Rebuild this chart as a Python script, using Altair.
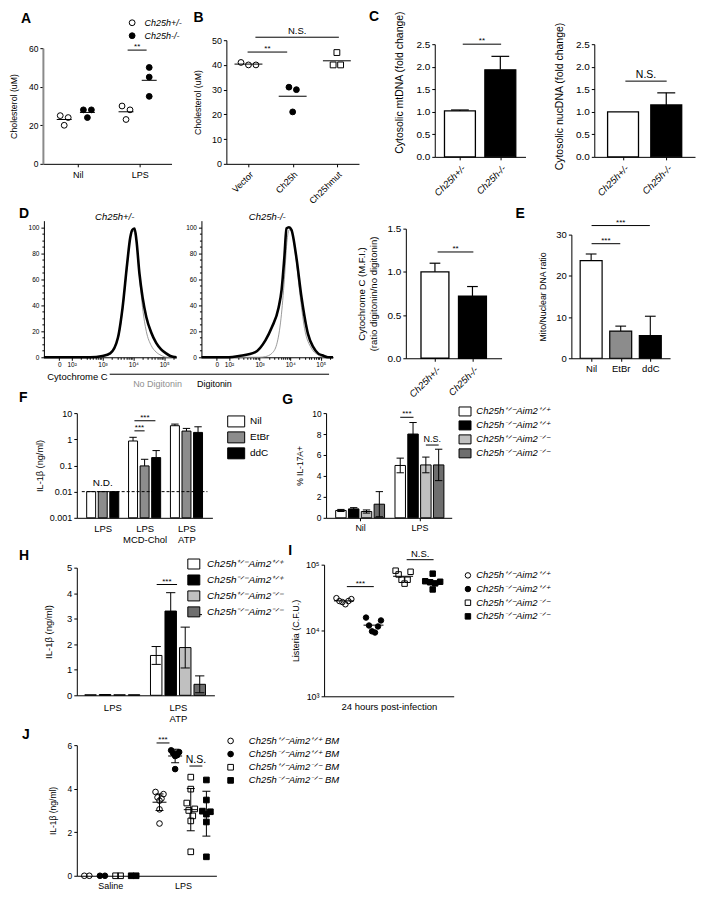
import json
import math
import altair as alt
import pandas as pd

FONT = "Liberation Sans"
W, H = 690, 884

# ---------------- data ----------------
# A
A_groups = ["Nil", "LPS"]
A_series = ["Ch25h+/-", "Ch25h-/-"]
A_het = [[25, 24, 20], [30, 28, 23]]
A_ko = [[28, 28, 24], [50, 45, 35]]
A_sig = [(0.806, 1.113, 59, "**")]

# B
B_groups = ["Vector", "Ch25h", "Ch25hmut"]
B_vals = [[41, 40, 40], [31, 30, 21], [45, 40, 40]]
B_sig = [(-0.02, 0.876, 45.2, "**"), (0.157, 2.045, 51.2, "N.S.")]

# C
C_groups = ["Ch25h+/-", "Ch25h-/-"]
C_mt = [1.02, 1.93]
C_mt_err = [0.02, 0.30]
C_mt_sig = [(0.07, 1.02, 2.5, "**")]
C_nuc = [1.00, 1.15]
C_nuc_err = [0.0, 0.27]
C_nuc_sig = [(0.054, 1.01, 1.68, "N.S.")]

# D (flow histograms, x in decades)
D_tick_pos = [1.6, 2, 3, 4, 5]
D_tick_lab = ["0", "10²", "10³", "10⁴", "10⁵"]
D_het_dig_x = [1.1, 2.6, 3.0, 3.25, 3.5, 3.65, 3.8, 3.9, 3.97, 4.04, 4.1, 4.2, 4.3, 4.42, 4.58, 4.74, 4.9, 5.06, 5.2, 5.4]
D_het_dig_y = [0, 0, 1, 3, 15, 38, 72, 92, 98, 99, 90, 64, 46, 31, 19, 11, 6, 3, 1, 0]
D_het_nod_x = [1.1, 2.8, 3.2, 3.5, 3.65, 3.8, 3.9, 3.98, 4.04, 4.12, 4.2, 4.3, 4.42, 4.58, 4.74, 4.9, 5.1, 5.4]
D_het_nod_y = [0, 0, 2, 14, 36, 70, 92, 97, 96, 85, 62, 38, 20, 9, 4, 1.5, 0, 0]
D_ko_dig_x = [1.1, 2.0, 2.33, 2.86, 3.19, 3.4, 3.62, 3.72, 3.81, 3.88, 3.96, 4.04, 4.2, 4.37, 4.58, 4.75, 4.91, 5.05, 5.23, 5.4]
D_ko_dig_y = [0, 0, 1, 4, 13, 23, 38, 52, 77, 99, 100, 98, 77, 46, 18, 8, 3, 1.5, 0, 0]
D_ko_nod_x = [1.1, 3.0, 3.19, 3.4, 3.56, 3.7, 3.81, 3.89, 3.97, 4.06, 4.17, 4.31, 4.47, 4.69, 4.9, 5.12, 5.4]
D_ko_nod_y = [0, 0, 0.5, 3, 10, 30, 60, 88, 98, 96, 80, 50, 22, 7, 2, 0, 0]
D_groups = ["Ch25h+/-", "Ch25h-/-"]
D_mfi = [1.00, 0.72]
D_mfi_err = [0.10, 0.11]
D_sig = [(0.071, 1.024, 1.23, "**")]

# E
E_groups = ["Nil", "EtBr", "ddC"]
E_vals = [23.7, 6.6, 5.5]
E_err = [1.6, 1.2, 4.7]
E_sig = [(0.015, 0.985, 27.8, "***"), (0.015, 1.985, 32.2, "***")]

# F
F_groups = ["LPS", "LPS|MCD-Chol", "LPS|ATP"]
F_series = ["Nil", "EtBr", "ddC"]
F_vals = [[0.01, 0.01, 0.01], [0.86, 0.096, 0.2], [3.3, 2.06, 1.83]]
F_err = [[0, 0, 0], [0.33, 0.076, 0.17], [0.5, 0.54, 1.17]]
F_sig = [(0.757, 1.258, 5.1, "***"), (0.757, 1.0, 2.1, "***")]
F_cutoff = 0.01
F_nd = [(0, 0.021, "N.D.")]

# G
G_groups = ["Nil", "LPS"]
G_series = ["Ch25h⁺ᐟ⁻Aim2⁺ᐟ⁺", "Ch25h⁻ᐟ⁻Aim2⁺ᐟ⁺", "Ch25h⁺ᐟ⁻Aim2⁻ᐟ⁻", "Ch25h⁻ᐟ⁻Aim2⁻ᐟ⁻"]
G_vals = [[0.7, 0.85, 0.6, 1.3], [5.0, 8.0, 5.05, 5.05]]
G_err = [[0.1, 0.12, 0.15, 1.2], [0.7, 1.1, 0.75, 1.5]]
G_sig = [(0.676, 0.9, 9.6, "***"), (1.108, 1.324, 6.95, "N.S.")]

# H
H_groups = ["LPS", "LPS|ATP"]
H_series = G_series
H_vals = [[0.02, 0.03, 0.02, 0.02], [1.56, 3.3, 1.87, 0.43]]
H_err = [[0, 0, 0, 0], [0.35, 0.72, 0.8, 0.33]]
H_sig = [(0.676, 0.986, 4.34, "***"), (1.169, 1.366, 3.16, "**")]

# I
I_series = G_series
I_vals = [[30000, 31000, 28000, 27000, 25000, 28000],
          [15700, 14200, 11500, 11900, 9300, 9700],
          [78000, 71000, 81000, 59000, 51500, 59000],
          [73000, 56000, 55000, 54000, 52000, 42000]]
I_sig = [(0.1, 1.01, 46400, "***"), (2.12, 3.03, 119000, "N.S.")]

# J
J_groups = ["Saline", "LPS"]
J_series = ["Ch25h⁺ᐟ⁻Aim2⁺ᐟ⁺ BM", "Ch25h⁻ᐟ⁻Aim2⁺ᐟ⁺ BM", "Ch25h⁺ᐟ⁻Aim2⁻ᐟ⁻ BM", "Ch25h⁻ᐟ⁻Aim2⁻ᐟ⁻ BM"]
J_saline = [[0, 0], [0, 0], [0, 0], [0, 0]]
J_lps = [[3.85, 3.75, 3.6, 3.55, 3.45, 3.05, 2.4],
         [5.76, 5.68, 5.63, 5.54, 5.5, 4.9],
         [4.53, 3.98, 3.34, 3.07, 3.0, 2.75, 2.52, 1.1],
         [4.4, 3.48, 2.97, 2.94, 2.83, 2.47, 0.87]]
J_lps_sd = [0.38, 0.31, 0.97, 1.03]
J_sig = [(0.637, 0.815, 6.1, "***"), (1.089, 1.267, 5.04, "N.S.")]

# ---------------- helpers ----------------
def names_expr(names, multiline=False):
    e = json.dumps(names) + "[round(datum.value)]"
    return "split(" + e + ", '|')" if multiline else e


def axis(**kw):
    d = dict(grid=False, domainColor="black", tickColor="black", labelColor="black",
             titleColor="black", labelFont=FONT, titleFont=FONT, titleFontWeight="normal",
             minExtent=0, maxExtent=300, labelOverlap=False, labelFlush=False)
    d.update(kw)
    return alt.Axis(**d)


def legend(x, y, fs=9.5, italic=True, stype=None, ssize=30, row_pad=3, loff=5):
    kw = dict(orient="none", legendX=x, legendY=y, title=None, direction="vertical",
              labelFont=FONT, labelFontSize=fs, labelColor="black", symbolSize=ssize,
              symbolStrokeColor="black", symbolStrokeWidth=1, rowPadding=row_pad,
              labelOffset=loff, padding=0)
    if italic:
        kw["labelFontStyle"] = "italic"
    if stype:
        kw["symbolType"] = stype
    return alt.Legend(**kw)


class Panel:
    def __init__(self, rect, xdom, ydom, xaxis, yaxis, ylog=False):
        self.x0, self.y0, self.x1, self.y1 = rect
        self.xdom, self.ydom = xdom, ydom
        self.xs = alt.Scale(domain=xdom, range=[self.x0, self.x1], nice=False, zero=False)
        if ylog:
            self.ys = alt.Scale(type="log", domain=ydom, range=[self.y1, self.y0], nice=False)
            self.ppy = (self.y1 - self.y0) / (math.log10(ydom[1]) - math.log10(ydom[0]))
        else:
            self.ys = alt.Scale(domain=ydom, range=[self.y1, self.y0], nice=False, zero=False)
            self.ppy = (self.y1 - self.y0) / (ydom[1] - ydom[0])
        self.ppx = (self.x1 - self.x0) / (xdom[1] - xdom[0])
        self.xaxis, self.yaxis = xaxis, yaxis
        self.layers = []

    def X(self, f, ax=False):
        return alt.X(f, type="quantitative", scale=self.xs, axis=self.xaxis if ax else None)

    def Y(self, f, ax=False):
        return alt.Y(f, type="quantitative", scale=self.ys, axis=self.yaxis if ax else None)

    def add(self, *chs):
        self.layers.extend(chs)

    def chart(self):
        return alt.layer(*self.layers).resolve_axis(x="independent", y="independent")


def swarm(vals, ppy, log=False, diam=6.0, step=7.0, spread=14.0):
    t = [math.log10(v) if log else v for v in vals]
    idx = sorted(range(len(vals)), key=lambda i: -t[i])
    clusters = [[idx[0]]]
    for a, b in zip(idx, idx[1:]):
        if abs(t[a] - t[b]) * ppy < diam:
            clusters[-1].append(b)
        else:
            clusters.append([b])
    offs = [0.0] * len(vals)
    for c in clusters:
        n = len(c)
        if n < 2:
            continue
        st = min(step, spread / (n - 1))
        slots = [(k - (n - 1) / 2) * st for k in range(n)]
        order, lo, hi = [], 0, n - 1
        for j in range(n):
            if j % 2 == 0:
                order.append(lo); lo += 1
            else:
                order.append(hi); hi -= 1
        for j, i in enumerate(c):
            offs[i] = slots[order[j]]
    return offs


def scatter_df(p, groups_vals, positions, series, log=False, **kw):
    rows, means = [], []
    for vals, pos, s in zip(groups_vals, positions, series):
        offs = swarm(vals, p.ppy, log, **kw)
        for v, o in zip(vals, offs):
            rows.append(dict(x=pos + o / p.ppx, v=v, s=s))
        means.append(dict(x=pos, m=sum(vals) / len(vals), s=s))
    return pd.DataFrame(rows), pd.DataFrame(means)


def point_layer(p, df, series, fills, shapes, size, leg):
    return alt.Chart(df).mark_point(filled=True, strokeWidth=1, size=size, opacity=1).encode(
        x=p.X("x", True), y=p.Y("v", True),
        fill=alt.Fill("s:N", scale=alt.Scale(domain=series, range=fills), legend=leg),
        stroke=alt.Stroke("s:N", scale=alt.Scale(domain=series, range=["black"] * len(series)), legend=leg),
        shape=alt.Shape("s:N", scale=alt.Scale(domain=series, range=shapes), legend=leg))


def mean_layer(p, dm, half_px, sw=1.0):
    d = dm.copy()
    d["l"] = d.x - half_px / p.ppx
    d["r"] = d.x + half_px / p.ppx
    return alt.Chart(d).mark_rule(color="black", strokeWidth=sw).encode(
        x=p.X("l"), x2=alt.X2("r"), y=p.Y("m"))


def bar_df(groups, series, vals, errs, off_units, base=0.0):
    rows = []
    n = len(series)
    for g in range(len(groups)):
        for s in range(n):
            v, e = vals[g][s], errs[g][s]
            rows.append(dict(x=g + (s - (n - 1) / 2) * off_units, v=v, e=e, s=series[s],
                             base=base, hi=v + e, lo=v - e))
    return pd.DataFrame(rows)


def bar_layer(p, df, width, dom, rng, leg=None, sw=1.0):
    return alt.Chart(df).mark_bar(size=width, stroke="black", strokeWidth=sw, orient="vertical").encode(
        x=p.X("x", True), y=p.Y("v", True), y2=alt.Y2("base"),
        fill=alt.Fill("s:N", scale=alt.Scale(domain=dom, range=rng), legend=leg))


def err_layers(p, df, cap_px, two_sided=False, sw=1.0):
    d = df[df.e > 0].copy()
    c = cap_px / p.ppx
    d["cl"] = d.x - c
    d["cr"] = d.x + c
    start = "lo" if two_sided else "v"
    out = [alt.Chart(d).mark_rule(color="black", strokeWidth=sw).encode(x=p.X("x"), y=p.Y(start), y2=alt.Y2("hi")),
           alt.Chart(d).mark_rule(color="black", strokeWidth=sw).encode(x=p.X("cl"), x2=alt.X2("cr"), y=p.Y("hi"))]
    if two_sided:
        out.append(alt.Chart(d).mark_rule(color="black", strokeWidth=sw).encode(x=p.X("cl"), x2=alt.X2("cr"), y=p.Y("lo")))
    return out


def sig_layers(p, sig, fs, gap=2):
    d = pd.DataFrame([dict(a=a, b=b, y=y, t=t, m=(a + b) / 2) for a, b, y, t in sig])
    return [alt.Chart(d).mark_rule(color="black", strokeWidth=1).encode(x=p.X("a"), x2=alt.X2("b"), y=p.Y("y")),
            alt.Chart(d).mark_text(font=FONT, fontSize=fs, baseline="alphabetic", dy=-gap, color="black").encode(
                x=p.X("m"), y=p.Y("y"), text="t:N")]


def text_layer(t, x, y, fs=9, **kw):
    return alt.Chart(pd.DataFrame({"t": [t]})).mark_text(font=FONT, fontSize=fs, color=kw.pop("color", "black"), **kw).encode(
        text="t:N", x=alt.value(x), y=alt.value(y))


panels = []
extras = []

# ---------------- A ----------------
pA = Panel((35, 39, 164, 155), [-0.565, 1.516], [0, 60],
           axis(orient="bottom", offset=155 - H, values=[0, 1], labelExpr=names_expr(A_groups),
                labelFontSize=9, tickSize=3, labelPadding=4, title=None),
           axis(orient="left", offset=-35, values=[0, 20, 40, 60], labelFontSize=8.5, tickSize=3,
                labelPadding=2, title="Cholesterol (uM)", titleFontSize=8.8, titlePadding=10,
                domainColor="#8a8a8a", domainWidth=2))
A_off = [-0.22, 0.155]
gv, pos, ser = [], [], []
for g in range(len(A_groups)):
    gv += [A_het[g], A_ko[g]]
    pos += [g + A_off[0], g + A_off[1]]
    ser += A_series
dfA, mA = scatter_df(pA, gv, pos, ser, diam=6, step=8, spread=16)
pA.add(point_layer(pA, dfA, A_series, ["transparent", "black"], ["circle", "circle"], 34,
                   legend(120, 9, fs=9, ssize=34, row_pad=2, loff=8)))
pA.add(mean_layer(pA, mA, 7.5))
pA.add(*sig_layers(pA, A_sig, 8, gap=1))
panels.append(pA.chart())

# ---------------- B ----------------
pB = Panel((219, 31, 352, 155), [-0.5, 2.5], [0, 50],
           axis(orient="bottom", offset=155 - H, values=[0, 1, 2], labelExpr=names_expr(B_groups),
                labelFontSize=9, tickSize=3, labelPadding=3, labelAngle=-45, title=None),
           axis(orient="left", offset=-219, values=[0, 10, 20, 30, 40, 50], labelFontSize=9, tickSize=3,
                labelPadding=2, title="Cholesterol (uM)", titleFontSize=8.8, titlePadding=9))
dfB, mB = scatter_df(pB, B_vals, [0, 1, 2], B_groups, diam=6, step=7.5, spread=15)
pB.add(point_layer(pB, dfB, B_groups, ["transparent", "black", "transparent"], ["circle", "circle", "square"], 34, None))
pB.add(mean_layer(pB, mB, 14))
pB.add(*sig_layers(pB, B_sig[:1], 8, gap=1))
pB.add(*sig_layers(pB, B_sig[1:], 9.5, gap=3))
panels.append(pB.chart())

# ---------------- C ----------------
def c_panel(rect, xdom, vals, errs, sig, title, sig_fs, sig_gap, title_y):
    x0, y0, x1, y1 = rect
    p = Panel(rect, xdom, [0, 2.5],
              axis(orient="bottom", offset=y1 - H, values=[0, 1], labelExpr=names_expr(C_groups),
                   labelFontSize=9.5, labelFontStyle="italic", tickSize=3, labelPadding=3, labelAngle=-45, title=None),
              axis(orient="left", offset=-x0, values=[0, 0.5, 1, 1.5, 2, 2.5], format=".1f", labelFontSize=10,
                   tickSize=3, labelPadding=2, title=title, titleFontSize=10.5, titlePadding=11, titleY=title_y))
    df = bar_df(C_groups, ["v"], [[v] for v in vals], [[e] for e in errs], 0)
    df["s"] = C_groups
    p.add(bar_layer(p, df, 31, C_groups, ["white", "black"], sw=1.3))
    p.add(*err_layers(p, df, 10, sw=1.2))
    p.add(*sig_layers(p, sig, sig_fs, gap=sig_gap))
    return p.chart()

panels.append(c_panel((428, 35, 519, 148), [-0.5, 1.5], C_mt, C_mt_err, C_mt_sig,
                      "Cytosolic mtDNA (fold change)", 8, 1, 73))
panels.append(c_panel((588, 35, 689, 148), [-0.55, 1.55], C_nuc, C_nuc_err, C_nuc_sig,
                      "Cytosolic nucDNA (fold change)", 10.5, 3, 87))

# ---------------- D histograms ----------------
D_minor_x = [k + math.log10(m) for k in (2, 3, 4) for m in range(2, 10)] + [5 + math.log10(2)]
D_minor_y = [v for v in range(0, 105, 5) if v % 20]
D_lab_expr = ("datum.value == 2 ? '%s' : datum.value == 3 ? '%s' : datum.value == 4 ? '%s' : "
              "datum.value == 5 ? '%s' : '%s'") % (D_tick_lab[1], D_tick_lab[2], D_tick_lab[3], D_tick_lab[4], D_tick_lab[0])


def hist_panel(rect, dig_x, dig_y, nod_x, nod_y):
    x0, y0, x1, y1 = rect
    p = Panel(rect, [1.1, 5.4], [0, 105],
              axis(orient="bottom", offset=y1 - H, values=D_tick_pos, labelExpr=D_lab_expr, labelFontSize=6.5,
                   tickSize=3, labelPadding=1, title=None),
              axis(orient="left", offset=-x0, values=[0, 20, 40, 60, 80, 100], labelFontSize=6.5, tickSize=3,
                   labelPadding=2, title=None))
    dn = pd.DataFrame({"x": nod_x, "v": nod_y})
    dd = pd.DataFrame({"x": dig_x, "v": dig_y})
    p.add(alt.Chart(dn).mark_line(color="#8f8f8f", strokeWidth=0.9, interpolate="monotone").encode(
        x=p.X("x", True), y=p.Y("v", True)))
    p.add(alt.Chart(dd).mark_line(color="black", strokeWidth=2.6, interpolate="monotone").encode(
        x=p.X("x"), y=p.Y("v")))
    dmin = pd.DataFrame({"x": [3.0], "v": [0.0]})
    p.add(alt.Chart(dmin).mark_point(opacity=0).encode(
        x=alt.X("x", type="quantitative", scale=p.xs,
                axis=axis(orient="bottom", offset=y1 - H, values=D_minor_x, labels=False, tickSize=2,
                          domain=False, title=None)),
        y=alt.Y("v", type="quantitative", scale=p.ys,
                axis=axis(orient="left", offset=-x0, values=D_minor_y, labels=False, tickSize=2,
                          domain=False, title=None))))
    return p.chart()

panels.append(hist_panel((36, 212, 169, 349), D_het_dig_x, D_het_dig_y, D_het_nod_x, D_het_nod_y))
panels.append(hist_panel((194, 212, 326, 349), D_ko_dig_x, D_ko_dig_y, D_ko_nod_x, D_ko_nod_y))
extras += [
    text_layer("Ch25h+/-", 107, 208, fs=9.5, fontStyle="italic", align="center"),
    text_layer("Ch25h-/-", 260, 208, fs=9.5, fontStyle="italic", align="center"),
    text_layer("Cytochrome C", 100, 369, fs=9.5, align="right"),
    text_layer("No Digitonin", 150, 376, fs=9, align="center", color="#8f8f8f"),
    text_layer("Digitonin", 207, 376, fs=9, align="center"),
    alt.Chart(pd.DataFrame({"z": [0]})).mark_rule(color="black", strokeWidth=1).encode(
        x=alt.value(102), x2=alt.value(322), y=alt.value(366)),
]

# ---------------- D bar ----------------
pD = Panel((399, 220, 495, 350), [-0.643, 1.643], [0, 1.5],
           axis(orient="bottom", offset=350 - H, values=[0, 1], labelExpr=names_expr(D_groups),
                labelFontSize=9.5, labelFontStyle="italic", tickSize=3, labelPadding=3, labelAngle=-45, title=None),
           axis(orient="left", offset=-399, values=[0, 0.5, 1, 1.5], format=".1f", labelFontSize=10, tickSize=3,
                labelPadding=2, title=["Cytochrome C (M.F.I.)", "(ratio digitonin/no digitonin)"],
                titleFontSize=9.6, titlePadding=9, titleLineHeight=12))
dfD = bar_df(D_groups, ["v"], [[v] for v in D_mfi], [[e] for e in D_mfi_err], 0)
dfD["s"] = D_groups
pD.add(bar_layer(pD, dfD, 28, D_groups, ["white", "black"], sw=1.3))
pD.add(*err_layers(pD, dfD, 6, sw=1.2))
pD.add(*sig_layers(pD, D_sig, 8, gap=1))
panels.append(pD.chart())

# ---------------- E ----------------
pE = Panel((565, 226, 664, 350), [-0.5, 2.5], [0, 30],
           axis(orient="bottom", offset=350 - H, values=[0, 1, 2], labelExpr=names_expr(E_groups),
                labelFontSize=9.5, tickSize=3, labelPadding=2, title=None),
           axis(orient="left", offset=-565, values=[0, 10, 20, 30], labelFontSize=9.5, tickSize=3,
                labelPadding=2, title="Mito/Nuclear DNA ratio", titleFontSize=8.8, titlePadding=8))
dfE = bar_df(E_groups, ["v"], [[v] for v in E_vals], [[e] for e in E_err], 0)
dfE["s"] = E_groups
pE.add(bar_layer(pE, dfE, 22, E_groups, ["white", "#8c8c8c", "black"], sw=1.2))
pE.add(*err_layers(pE, dfE, 6, sw=1.1))
pE.add(*sig_layers(pE, E_sig, 8, gap=1))
panels.append(pE.chart())

# ---------------- F ----------------
pF = Panel((69, 405, 205, 510), [-0.5, 2.5], [0.001, 10],
           axis(orient="bottom", offset=510 - H, values=[0, 1, 2], labelExpr=names_expr(F_groups, True),
                labelFontSize=9.5, ticks=False, labelPadding=6, labelLineHeight=11, labelBaseline="top", title=None),
           axis(orient="left", offset=-69, values=[0.001, 0.01, 0.1, 1, 10], format="~g", labelFontSize=9,
                tickSize=3, labelPadding=2, title="IL-1β (ng/ml)", titleFontSize=9.2, titlePadding=5),
           ylog=True)
dfF = bar_df(F_groups, F_series, F_vals, F_err, 0.276, base=0.001)
pF.add(bar_layer(pF, dfF, 9, F_series, ["white", "#8c8c8c", "black"],
                 legend(223.85, 408.35, fs=10, italic=False, stype="M-2.05,-1.325H2.05V1.325H-2.05Z", ssize=69,
                        row_pad=0, loff=8.85)))
pF.add(*err_layers(pF, dfF, 4))
dcut = pd.DataFrame({"a": [pF.xdom[0]], "b": [pF.xdom[1]], "c": [F_cutoff]})
pF.add(alt.Chart(dcut).mark_rule(color="black", strokeWidth=1, strokeDash=[3, 2]).encode(
    x=pF.X("a"), x2=alt.X2("b"), y=pF.Y("c")))
dnd = pd.DataFrame([dict(x=x, y=y, t=t) for x, y, t in F_nd])
pF.add(alt.Chart(dnd).mark_text(font=FONT, fontSize=10, color="black").encode(x=pF.X("x"), y=pF.Y("y"), text="t:N"))
pF.add(*sig_layers(pF, F_sig, 8, gap=1))
panels.append(pF.chart())

# ---------------- G ----------------
pG = Panel((319, 405, 445, 510), [-0.49, 1.46], [0, 10],
           axis(orient="bottom", offset=510 - H, values=[0, 1], labelExpr=names_expr(G_groups),
                labelFontSize=9, tickSize=3, labelPadding=3, title=None),
           axis(orient="left", offset=-319, values=[0, 2, 4, 6, 8, 10], labelFontSize=8.5, tickSize=3,
                labelPadding=2, title="% IL-17A+", titleFontSize=8.5, titlePadding=7))
dfG = bar_df(G_groups, G_series, G_vals, G_err, 0.216)
GH_colors = ["white", "black", "#c0c0c0", "#6e6e6e"]
pG.add(bar_layer(pG, dfG, 10.5, G_series, GH_colors,
                 legend(453.35, 398.35, fs=9.5, stype="M-1.446,-1.084H1.446V1.084H-1.446Z", ssize=69,
                        row_pad=0, loff=6.35)))
pG.add(*err_layers(pG, dfG, 4, two_sided=True))
pG.add(*sig_layers(pG, G_sig[:1], 8, gap=1))
pG.add(*sig_layers(pG, G_sig[1:], 9, gap=3))
panels.append(pG.chart())

# ---------------- H ----------------
pH = Panel((69, 560, 207, 688), [-0.465, 1.479], [0, 5],
           axis(orient="bottom", offset=688 - H, values=[0, 1], labelExpr=names_expr(H_groups, True),
                labelFontSize=9.5, ticks=False, labelPadding=7, labelLineHeight=11, labelBaseline="top", title=None),
           axis(orient="left", offset=-69, values=[0, 1, 2, 3, 4, 5], labelFontSize=9.5, tickSize=3,
                labelPadding=2, title="IL-1β (ng/ml)", titleFontSize=9.5, titlePadding=13))
dfH = bar_df(H_groups, H_series, H_vals, H_err, 0.221)
pH.add(bar_layer(pH, dfH, 11.5, H_series, GH_colors,
                 legend(181.35, 551.35, fs=10, stype="M-1.446,-1.205H1.446V1.205H-1.446Z", ssize=69,
                        row_pad=0, loff=8.35)))
pH.add(*err_layers(pH, dfH, 5, two_sided=True))
pH.add(*sig_layers(pH, H_sig, 8, gap=1))
panels.append(pH.chart())

# ---------------- I ----------------
pI = Panel((317, 557, 447, 689), [-0.67, 3.71], [1000, 100000],
           axis(orient="bottom", offset=689 - H, labels=False, ticks=False, title="24 hours post-infection",
                titleFontSize=9.5, titlePadding=5),
           axis(orient="left", offset=-317, values=[1000, 10000, 100000],
                labelExpr="'10' + (datum.value > 50000 ? '⁵' : datum.value > 5000 ? '⁴' : '³')",
                labelFontSize=9, tickSize=3, labelPadding=2, title="Listeria (C.F.U.)", titleFontSize=9,
                titlePadding=5),
           ylog=True)
dfI, mI = scatter_df(pI, I_vals, [0, 1, 2, 3], I_series, log=True, diam=6, step=5, spread=15)
pI.add(point_layer(pI, dfI, I_series, ["transparent", "black", "transparent", "black"],
                   ["circle", "circle", "square", "square"], 30,
                   legend(456.5, 563, fs=9.5, ssize=30, row_pad=2.7, loff=3.5)))
pI.add(mean_layer(pI, mI, 10))
pI.add(*sig_layers(pI, I_sig[:1], 8, gap=1))
pI.add(*sig_layers(pI, I_sig[1:], 9.5, gap=3))
panels.append(pI.chart())

# ---------------- J ----------------
pJ = Panel((69, 738, 209, 869), [-0.46, 1.46], [0, 6],
           axis(orient="bottom", offset=869 - H, values=[0, 1], labelExpr=names_expr(J_groups),
                labelFontSize=9, ticks=False, labelPadding=6, title=None),
           axis(orient="left", offset=-69, values=[0, 2, 4, 6], labelFontSize=8.5, tickSize=3,
                labelPadding=2, title="IL-1β (ng/ml)", titleFontSize=8.5, titlePadding=10))
J_off = 0.215
gv, pos, ser = [], [], []
for s in range(len(J_series)):
    gv.append(J_saline[s]); pos.append(0 + (s - 1.5) * J_off); ser.append(J_series[s])
for s in range(len(J_series)):
    gv.append(J_lps[s]); pos.append(1 + (s - 1.5) * J_off); ser.append(J_series[s])
dfJ, mJ = scatter_df(pJ, gv, pos, ser, diam=6, step=5, spread=8)
mJ = mJ.iloc[len(J_series):].reset_index(drop=True)
pJ.add(point_layer(pJ, dfJ, J_series, ["transparent", "black", "transparent", "black"],
                   ["circle", "circle", "square", "square"], 32,
                   legend(218.5, 729, fs=9.5, ssize=32, row_pad=2.2, loff=13.5)))
mJ["e"] = J_lps_sd
mJ["v"] = mJ["m"]
mJ["hi"] = mJ.m + mJ.e
mJ["lo"] = mJ.m - mJ.e
pJ.add(mean_layer(pJ, mJ, 7))
pJ.add(*err_layers(pJ, mJ, 4, two_sided=True))
pJ.add(*sig_layers(pJ, J_sig[:1], 8, gap=1))
pJ.add(*sig_layers(pJ, J_sig[1:], 10.5, gap=3))
panels.append(pJ.chart())

# ---------------- panel letters ----------------
LETTERS = [("A", 13, 14), ("B", 186, 13), ("C", 362, 12), ("D", 11, 209), ("E", 509, 209),
           ("F", 11, 394), ("G", 275, 396), ("H", 11, 552), ("I", 281, 547), ("J", 14, 732)]
for t, x, y in LETTERS:
    extras.append(text_layer(t, x, y, fs=14, fontWeight="bold", align="left", baseline="alphabetic"))

chart = (
    alt.layer(*panels, *extras)
    .resolve_scale(x="independent", y="independent", fill="independent", shape="independent",
                   stroke="independent")
    .resolve_axis(x="independent", y="independent")
    .resolve_legend(fill="independent", shape="independent", stroke="independent")
    .properties(width=W, height=H, padding=0, background="white")
    .configure_view(strokeWidth=0)
)

chart.save("out.html", embed_options={"renderer": "svg", "actions": False})
